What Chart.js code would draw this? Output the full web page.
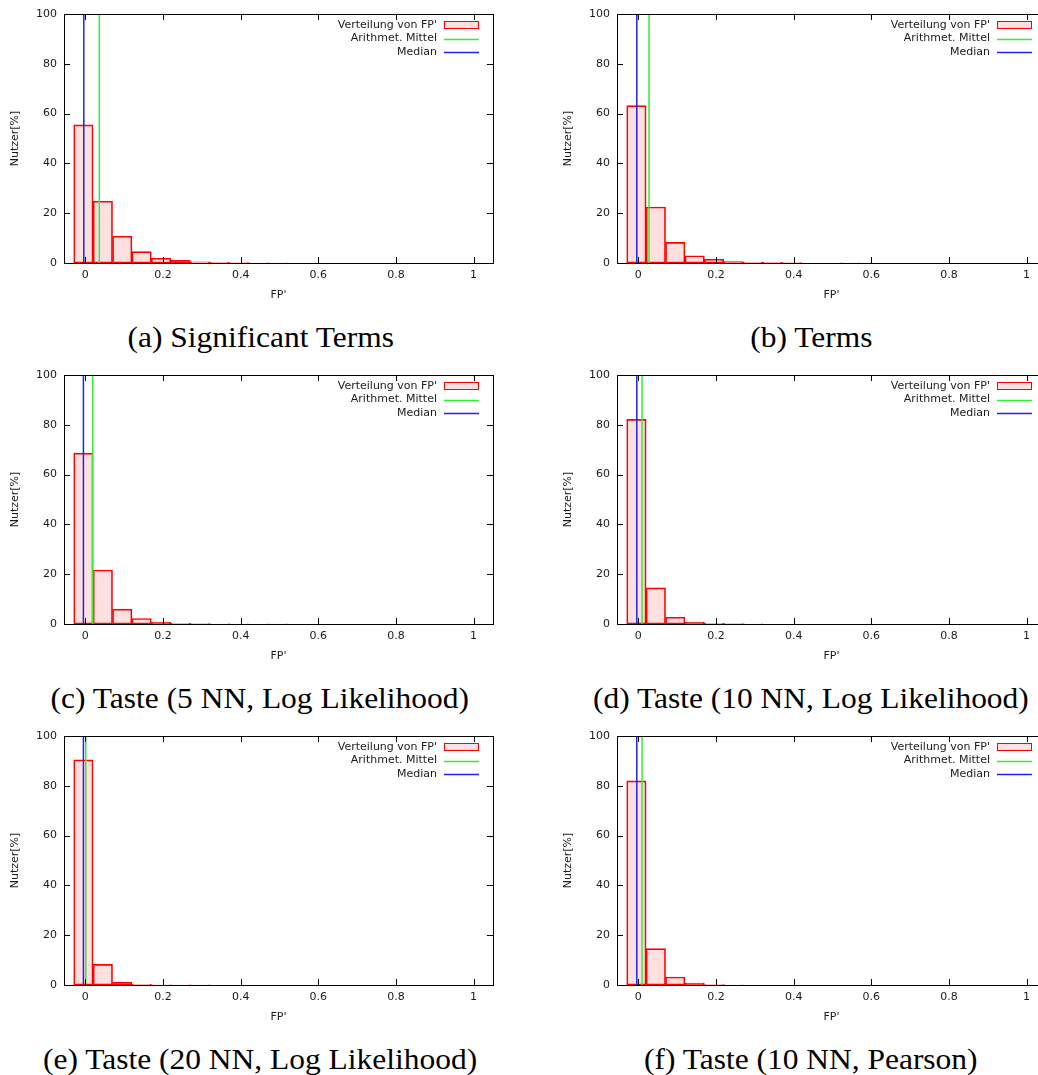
<!DOCTYPE html>
<html>
<head>
<meta charset="utf-8">
<script src="https://cdn.jsdelivr.net/npm/chart.js@4/dist/chart.umd.min.js"></script>
<style>
	html, body { margin: 0; padding: 0; background: #fff; }
	body { width: 1038px; height: 1075px; overflow: hidden; position: relative; }
	.panel { position: absolute; width: 519px; height: 310px; }
	.caption {
		position: absolute;
		font-family: 'Liberation Serif', 'DejaVu Serif', serif;
		font-size: 29px;
		line-height: 30px;
		color: #000;
		white-space: nowrap;
		transform: scaleX(1.085);
		transform-origin: 50% 50%;
	}
</style>
</head>
<body>

<script>
// bin centres of the FP' histogram (bin width 0.05)
const binCenters = [-0.005, 0.045, 0.095, 0.145, 0.195, 0.245, 0.295, 0.345, 0.395, 0.445, 0.495, 0.545];

// share of users per bin, in %
const sigTermsShare = [55.5, 24.8, 10.8, 4.6, 1.9, 1.1, 0.5, 0.3, 0.2, 0.1, 0.1, 0];
const termsShare = [63.2, 22.5, 8.3, 2.9, 1.5, 0.6, 0.3, 0.3, 0.2, 0, 0, 0.1];
const taste5LLShare = [68.6, 21.7, 6.0, 2.2, 0.8, 0.3, 0.2, 0.1, 0.1, 0, 0.05, 0];
const taste10LLShare = [82.2, 14.5, 2.7, 0.8, 0.3, 0.2, 0.1, 0, 0, 0, 0, 0];
const taste20LLShare = [90.4, 8.3, 1.1, 0.3, 0.1, 0.1, 0.1, 0, 0, 0, 0, 0];
const taste10PearsonShare = [82.0, 14.6, 3.2, 0.8, 0.2, 0.1, 0, 0, 0, 0, 0, 0];

const meanFP = [0.036, 0.0275, 0.019, 0.0095, 0.001, 0.0095];
const medianFP = [-0.004, -0.004, -0.005, -0.004, -0.005, -0.004];

const xTicks = [0, 0.2, 0.4, 0.6, 0.8, 1];
const yTicks = [0, 20, 40, 60, 80, 100];

const captions = [
	'(a) Significant Terms',
	'(b) Terms',
	'(c) Taste (5 NN, Log Likelihood)',
	'(d) Taste (10 NN, Log Likelihood)',
	'(e) Taste (20 NN, Log Likelihood)',
	'(f) Taste (10 NN, Pearson)',
];
const shares = [sigTermsShare, termsShare, taste5LLShare, taste10LLShare, taste20LLShare, taste10PearsonShare];

const legendLabels = ["Verteilung von FP'", 'Arithmet. Mittel', 'Median'];

// captions are centred under each column
const captionCenter = [260, 811];

const FONT = { family: "'DejaVu Sans', sans-serif", size: 11 };
const TEXT = '#1a1a1a';

// gnuplot style frame, inward ticks on all four sides and the legend in the corner
const gnuplotFrame = {
	id: 'gnuplotFrame',
	afterDatasetsDraw(chart) {
		const { ctx, chartArea: a, scales } = chart;
		ctx.save();
		ctx.strokeStyle = '#000';
		ctx.lineWidth = 1;
		ctx.beginPath();
		xTicks.forEach((v) => {
			const x = Math.round(scales.x.getPixelForValue(v)) + 0.5;
			ctx.moveTo(x, a.bottom); ctx.lineTo(x, a.bottom - 6);
			ctx.moveTo(x, a.top); ctx.lineTo(x, a.top + 6);
		});
		yTicks.forEach((v) => {
			const y = Math.round(scales.y.getPixelForValue(v)) + 0.5;
			ctx.moveTo(a.left, y); ctx.lineTo(a.left + 6, y);
			ctx.moveTo(a.right, y); ctx.lineTo(a.right - 6, y);
		});
		ctx.stroke();
		ctx.strokeRect(Math.round(a.left) + 0.5, Math.round(a.top) + 0.5,
			Math.round(a.right - a.left), Math.round(a.bottom - a.top));

		// legend
		ctx.font = `${FONT.size}px ${FONT.family}`;
		ctx.fillStyle = TEXT;
		ctx.textAlign = 'right';
		ctx.textBaseline = 'middle';
		const textX = a.right - 56;
		const s0 = a.right - 49, s1 = a.right - 14;
		chart.data.datasets.forEach((ds, i) => {
			const y = a.top + 11 + i * 13.5;
			ctx.fillText(ds.label, textX, y);
			if (ds.type === 'bar') {
				ctx.fillStyle = ds.backgroundColor;
				ctx.fillRect(s0, y - 4, s1 - s0, 8);
				ctx.strokeStyle = ds.borderColor;
				ctx.strokeRect(s0 + 0.5, Math.round(y - 4) + 0.5, s1 - s0 - 1, 7);
				ctx.fillStyle = TEXT;
			} else {
				ctx.strokeStyle = ds.borderColor;
				ctx.lineWidth = 1.5;
				ctx.beginPath();
				ctx.moveTo(s0, Math.round(y) + 0.5);
				ctx.lineTo(s1, Math.round(y) + 0.5);
				ctx.stroke();
				ctx.lineWidth = 1;
			}
		});
		ctx.restore();
	},
};

function histogramDraw(idx) {
	const col = idx % 2;
	const row = Math.floor(idx / 2);

	const wrap = document.createElement('div');
	wrap.className = 'panel';
	wrap.style.left = (col === 0 ? 0 : 553) + 'px';
	wrap.style.top = (row * 361) + 'px';
	const canvas = document.createElement('canvas');
	canvas.width = 519;
	canvas.height = 310;
	wrap.appendChild(canvas);
	document.body.appendChild(wrap);

	const cap = document.createElement('div');
	cap.className = 'caption';
	cap.textContent = captions[idx];
	cap.style.top = (row * 361 + 322) + 'px';
	document.body.appendChild(cap);
	cap.style.left = (captionCenter[col] - cap.offsetWidth / 2) + 'px';

	const barData = [];
	shares[idx].forEach((v, i) => {
		if (v > 0) barData.push({ x: binCenters[i], y: v });
	});

	new Chart(canvas, {
		type: 'bar',
		data: {
			datasets: [
				{
					label: legendLabels[0],
					type: 'bar',
					data: barData,
					backgroundColor: 'rgba(255, 0, 0, 0.12)',
					borderColor: '#ff0000',
					borderWidth: 1,
					borderSkipped: false,
					barPercentage: 1,
					categoryPercentage: 1,
					order: 3,
				},
				{
					label: legendLabels[1],
					type: 'line',
					data: [{ x: meanFP[idx], y: 0 }, { x: meanFP[idx], y: 100 }],
					borderColor: '#33ee33',
					borderWidth: 1.5,
					pointRadius: 0,
					order: 2,
				},
				{
					label: legendLabels[2],
					type: 'line',
					data: [{ x: medianFP[idx], y: 0 }, { x: medianFP[idx], y: 100 }],
					borderColor: '#2222ee',
					borderWidth: 1.5,
					pointRadius: 0,
					order: 1,
				},
			],
		},
		options: {
			responsive: false,
			animation: false,
			devicePixelRatio: 1,
			layout: { padding: { top: 14, right: 26, left: 0, bottom: 0 } },
			plugins: {
				legend: { display: false },
				tooltip: { enabled: false },
			},
			scales: {
				x: {
					type: 'linear',
					offset: false,
					min: -0.055,
					max: 1.05,
					grid: { display: false, drawTicks: false, offset: false },
					border: { display: false },
					afterBuildTicks: (scale) => { scale.ticks = xTicks.map((v) => ({ value: v })); },
					afterFit: (scale) => { scale.height = 47; },
					ticks: {
						color: TEXT,
						font: FONT,
						padding: 6,
						maxRotation: 0,
						callback: (v) => String(v),
					},
					title: {
						display: true,
						text: "FP'",
						color: TEXT,
						font: FONT,
						padding: { top: 0, bottom: 8 },
					},
				},
				y: {
					min: 0,
					max: 100,
					grid: { display: false, drawTicks: false },
					border: { display: false },
					afterBuildTicks: (scale) => { scale.ticks = yTicks.map((v) => ({ value: v })); },
					afterFit: (scale) => { scale.width = 64; },
					ticks: {
						color: TEXT,
						font: FONT,
						padding: 7,
						callback: (v) => String(v),
					},
					title: {
						display: true,
						text: 'Nutzer[%]',
						color: TEXT,
						font: FONT,
						padding: { top: 9, bottom: 0 },
					},
				},
			},
		},
		plugins: [gnuplotFrame],
	});
}

for (let i = 0; i < 6; i++) histogramDraw(i);
</script>
</body>
</html>
